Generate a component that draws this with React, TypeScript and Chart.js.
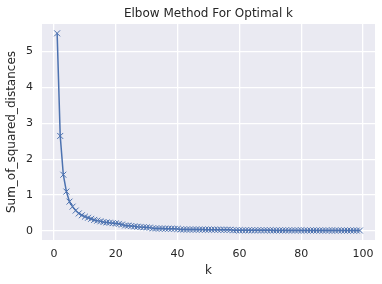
import React, { useEffect, useRef } from 'react';
import { Chart, registerables } from 'chart.js';

Chart.register(...registerables);

const titleText = 'Elbow Method For Optimal k';
const xLabel = 'k';
const yLabel = 'Sum_of_squared_distances';

const kValues = [
  1, 2, 3, 4, 5, 6, 7, 8, 9, 10, 11, 12, 13, 14, 15, 16, 17, 18, 19, 20,
  21, 22, 23, 24, 25, 26, 27, 28, 29, 30, 31, 32, 33, 34, 35, 36, 37, 38, 39, 40,
  41, 42, 43, 44, 45, 46, 47, 48, 49, 50, 51, 52, 53, 54, 55, 56, 57, 58, 59, 60,
  61, 62, 63, 64, 65, 66, 67, 68, 69, 70, 71, 72, 73, 74, 75, 76, 77, 78, 79, 80,
  81, 82, 83, 84, 85, 86, 87, 88, 89, 90, 91, 92, 93, 94, 95, 96, 97, 98, 99,
];

const sumSquaredDistances = [
  5.51, 2.65, 1.57, 1.1, 0.82, 0.68, 0.57, 0.49, 0.44, 0.4,
  0.37, 0.34, 0.31, 0.29, 0.27, 0.25, 0.24, 0.23, 0.22, 0.21,
  0.2, 0.18, 0.155, 0.15, 0.14, 0.13, 0.12, 0.112, 0.106, 0.1,
  0.095, 0.075, 0.072, 0.07, 0.068, 0.066, 0.065, 0.063, 0.062, 0.06,
  0.045, 0.044, 0.043, 0.042, 0.042, 0.041, 0.04, 0.04, 0.039, 0.039,
  0.038, 0.038, 0.037, 0.037, 0.036, 0.036, 0.035, 0.022, 0.022, 0.021,
  0.021, 0.021, 0.02, 0.02, 0.02, 0.02, 0.019, 0.019, 0.019, 0.019,
  0.018, 0.018, 0.018, 0.018, 0.018, 0.017, 0.017, 0.017, 0.017, 0.017,
  0.016, 0.016, 0.016, 0.016, 0.016, 0.016, 0.015, 0.015, 0.015, 0.015,
  0.015, 0.015, 0.015, 0.014, 0.014, 0.014, 0.014, 0.014, 0.014,
];

const xTicks = [0, 20, 40, 60, 80, 100];
const yTicks = [0, 1, 2, 3, 4, 5];

const TEXT = '#262626';
const FONT = "'DejaVu Sans', sans-serif";

const bgPlugin = {
  id: 'axesBg',
  beforeDraw(chart: any) {
    const { ctx, chartArea } = chart;
    ctx.save();
    ctx.fillStyle = '#ffffff';
    ctx.fillRect(0, 0, chart.width, chart.height);
    ctx.fillStyle = '#EAEAF2';
    ctx.fillRect(chartArea.left, chartArea.top, chartArea.right - chartArea.left, chartArea.bottom - chartArea.top);
    ctx.restore();
  },
  afterDraw(chart: any) {
    const { ctx, chartArea } = chart;
    ctx.save();
    ctx.fillStyle = TEXT;
    ctx.font = `12px ${FONT}`;
    ctx.textAlign = 'center';
    ctx.textBaseline = 'middle';
    ctx.fillText(titleText, (chartArea.left + chartArea.right) / 2, 13.7);
    ctx.restore();
  },
};

export default function App() {
  const ref = useRef<HTMLCanvasElement>(null);
  useEffect(() => {
    if (!ref.current) return;
    const chart = new Chart(ref.current, {
      type: 'line',
      data: {
        datasets: [
          {
            data: kValues.map((k, i) => ({ x: k, y: sumSquaredDistances[i] })),
            borderColor: '#4C72B0',
            borderWidth: 1.5,
            pointStyle: 'crossRot',
            pointRadius: 4.2,
            pointBorderWidth: 1,
            pointBorderColor: '#4C72B0',
            pointBackgroundColor: '#4C72B0',
            tension: 0,
            fill: false,
          },
        ],
      },
      options: {
        responsive: false,
        animation: false,
        devicePixelRatio: 1,
        layout: { padding: { top: 24, right: 7, bottom: 0, left: 0 } },
        plugins: {
          legend: { display: false },
          tooltip: { enabled: false },
          title: { display: false },
        },
        scales: {
          x: {
            type: 'linear',
            min: -3.9,
            max: 103.9,
            afterBuildTicks: (s: any) => {
              s.ticks = xTicks.map((v) => ({ value: v }));
            },
            afterFit: (s: any) => {
              s.height = 44;
            },
            grid: { color: '#ffffff', lineWidth: 1.3, drawTicks: false },
            border: { display: false },
            ticks: {
              padding: 8,
              color: TEXT,
              font: { family: FONT, size: 11 },
              maxRotation: 0,
              autoSkip: false,
            },
            title: {
              display: true,
              text: xLabel,
              color: TEXT,
              font: { family: FONT, size: 12 },
              padding: { top: 0, bottom: 6.4 },
            },
          },
          y: {
            type: 'linear',
            min: -0.25,
            max: 5.77,
            afterBuildTicks: (s: any) => {
              s.ticks = yTicks.map((v) => ({ value: v }));
            },
            afterFit: (s: any) => {
              s.width = 42;
            },
            grid: { color: '#ffffff', lineWidth: 1.3, drawTicks: false },
            border: { display: false },
            ticks: {
              padding: 9,
              color: TEXT,
              font: { family: FONT, size: 11 },
              autoSkip: false,
            },
            title: {
              display: true,
              text: yLabel,
              color: TEXT,
              font: { family: FONT, size: 12 },
              padding: { top: 5, bottom: 0 },
            },
          },
        },
      },
      plugins: [bgPlugin],
    });
    return () => chart.destroy();
  }, []);
  return (
    <div style={{ position: 'absolute', left: 0, top: 0, width: 382, height: 284 }}>
      <canvas ref={ref} width={382} height={284} style={{ display: 'block' }} />
    </div>
  );
}
